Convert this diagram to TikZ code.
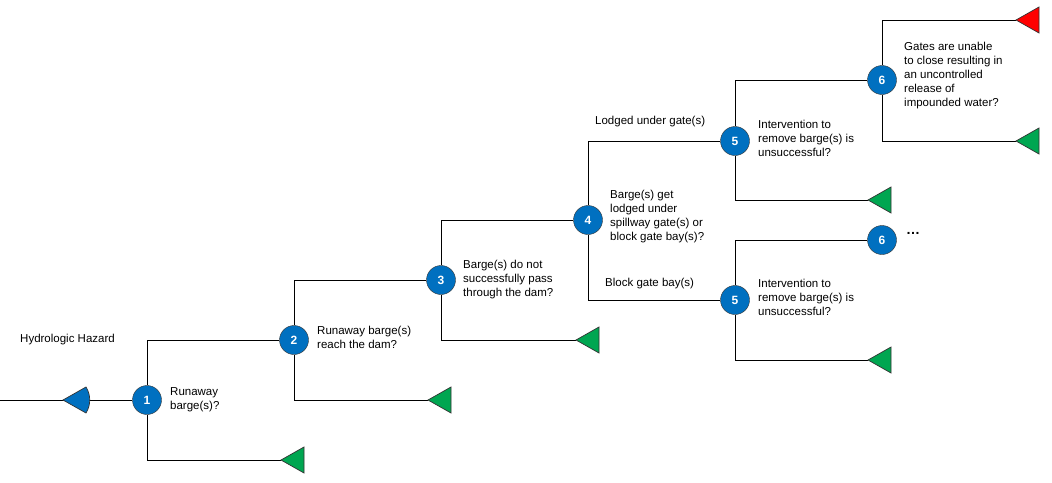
\documentclass[tikz,border=0pt]{standalone}
\usepackage{fontspec}
\setmainfont{Liberation Sans}
\begin{document}
\begin{tikzpicture}[x=1pt,y=-1pt,
  ev/.style={circle,draw=black!80,fill={rgb,255:red,0;green,112;blue,192},minimum size=29pt,inner sep=0pt,text=white,font=\fontsize{12}{14}\selectfont\bfseries},
  ln/.style={draw=black,line width=0.9pt},
  lab/.style={anchor=north west,align=left,inner sep=0pt,font=\fontsize{11.5}{14}\selectfont},
  tri/.style={draw=black!80,line width=0.7pt}]
\useasboundingbox (0,0) rectangle (1052,482);
\definecolor{gr}{RGB}{0,166,81}
\definecolor{rd}{RGB}{255,0,0}
\definecolor{bl}{RGB}{0,112,192}
\newcommand{\gtri}[3]{\filldraw[tri,fill=#3] (#1,#2) -- (#1+23,#2-13) -- (#1+23,#2+13) -- cycle;}
\coordinate (s) at (0,400);
\node[ev] (n1) at (147,400) {1};
\node[ev] (n2) at (294,340) {2};
\node[ev] (n3) at (441,280) {3};
\node[ev] (n4) at (588,220) {4};
\node[ev] (n5a) at (735,141) {5};
\node[ev] (n6a) at (882,80) {6};
\node[ev] (n5b) at (735,300) {5};
\node[ev] (n6b) at (882,240) {6};
\coordinate (t1) at (281,460);
\coordinate (t2) at (428,400);
\coordinate (t3) at (576,340);
\coordinate (t5a) at (868,200);
\coordinate (t6r) at (1016,20);
\coordinate (t6g) at (1016,141);
\coordinate (t5b) at (868,360);
\begin{scope}[ln]
\draw (s) -- (n1);
\draw (n1) -- (147,340) -- (n2);
\draw (n1) -- (147,460) -- (t1);
\draw (n2) -- (294,280) -- (n3);
\draw (n2) -- (294,400) -- (t2);
\draw (n3) -- (441,220) -- (n4);
\draw (n3) -- (441,340) -- (t3);
\draw (n4) -- (588,141) -- (n5a);
\draw (n4) -- (588,300) -- (n5b);
\draw (n5a) -- (735,80) -- (n6a);
\draw (n5a) -- (735,200) -- (t5a);
\draw (n6a) -- (882,20) -- (t6r);
\draw (n6a) -- (882,141) -- (t6g);
\draw (n5b) -- (735,240) -- (n6b);
\draw (n5b) -- (735,360) -- (t5b);
\end{scope}
\filldraw[tri,fill=bl] (63,400) -- (86,387) .. controls (91,395) and (91,405) .. (86,413) -- cycle;
\gtri{281}{460}{gr}
\gtri{428}{400}{gr}
\gtri{576}{340}{gr}
\gtri{868}{200}{gr}
\gtri{1016}{20}{rd}
\gtri{1016}{141}{gr}
\gtri{868}{360}{gr}
\node[lab] (l0) at (20,334) {Hydrologic Hazard};
\node[lab] (l1) at (170,387) {Runaway\\barge(s)?};
\node[lab] (l2) at (317,326) {Runaway barge(s)\\reach the dam?};
\node[lab] (l3) at (463,260) {Barge(s) do not\\successfully pass\\through the dam?};
\node[lab] (l4) at (610,190) {Barge(s) get\\lodged under\\spillway gate(s) or\\block gate bay(s)?};
\node[lab] (l4a) at (595,116) {Lodged under gate(s)};
\node[lab] (l4b) at (605,278) {Block gate bay(s)};
\node[lab] (l5a) at (758,120) {Intervention to\\remove barge(s) is\\unsuccessful?};
\node[lab] (l5b) at (758,279) {Intervention to\\remove barge(s) is\\unsuccessful?};
\node[lab] (l6a) at (904,42) {Gates are unable\\to close resulting in\\an uncontrolled\\release of\\impounded water?};
\node[anchor=west,inner sep=0pt,font=\fontsize{14}{16}\selectfont\bfseries] (dots) at (906,233) {\dots};
\end{tikzpicture}
\end{document}
